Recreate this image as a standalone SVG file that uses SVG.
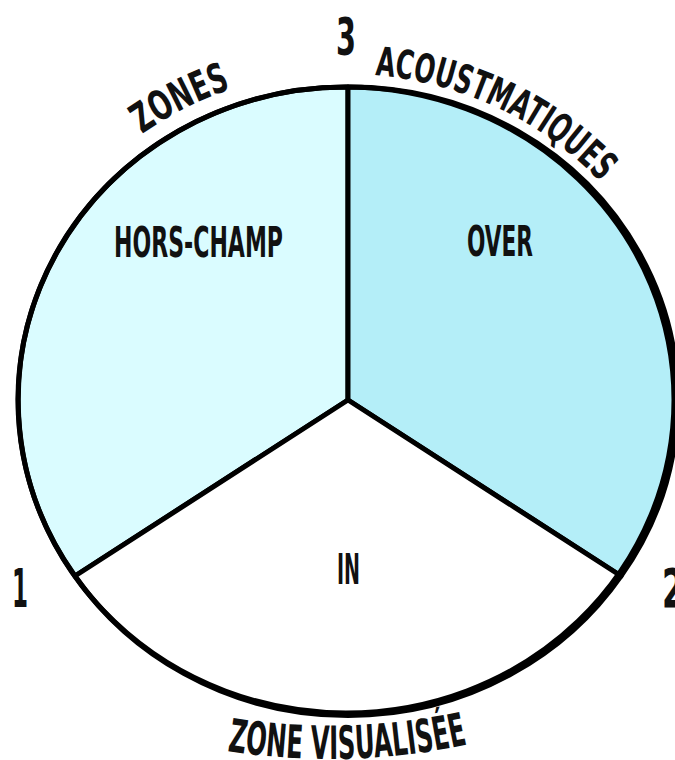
<svg xmlns="http://www.w3.org/2000/svg" width="675" height="760" viewBox="0 0 675 760">
<style>
.lbl{font-family:"DejaVu Sans Condensed","Liberation Sans",sans-serif;font-weight:bold;fill:#111;}
.seg{stroke:#000;stroke-width:5;stroke-linejoin:round;}
</style>
<defs>
<path id="pZones" d="M 142,134 A 345 330 0 0 1 346,70"/>
<path id="pAcou" d="M 346,74 A 342 326 0 0 1 688,400"/>
<path id="pVis" d="M 130,727.5 A 650 650 0 0 0 530,727.5"/>
</defs>
<rect width="675" height="760" fill="#fff"/>
<g id="sector-horschamp">
<path class="seg" fill="#DAFCFF" d="M 348,400 L 348,87 A 328 313 0 0 0 75,576 Z"/>
<text class="lbl" x="114" y="257" font-size="42" textLength="169" lengthAdjust="spacingAndGlyphs">HORS-CHAMP</text>
</g>
<g id="sector-over">
<path class="seg" fill="#B4EEF8" d="M 348,400 L 348,87 A 328 313 0 0 1 621,576 Z"/>
<text class="lbl" x="467" y="256" font-size="42" textLength="66" lengthAdjust="spacingAndGlyphs">OVER</text>
</g>
<g id="sector-in">
<path class="seg" fill="#FFFFFF" d="M 348,400 L 75,576 A 328 313 0 0 0 621,576 Z"/>
<text class="lbl" x="337" y="584" font-size="42" textLength="23" lengthAdjust="spacingAndGlyphs">IN</text>
</g>
<g id="outline">
<ellipse cx="346" cy="400" rx="328" ry="313" fill="none" stroke="#000" stroke-width="5"/>
</g>
<g id="numbers">
<text class="lbl" x="336" y="55" font-size="51" textLength="20" lengthAdjust="spacingAndGlyphs">3</text>
<text class="lbl" x="12" y="607" font-size="53" textLength="16" lengthAdjust="spacingAndGlyphs">1</text>
<text class="lbl" x="662" y="607" font-size="53" textLength="22" lengthAdjust="spacingAndGlyphs">2</text>
</g>
<g id="curved-labels">
<text class="lbl" font-size="41" textLength="100" lengthAdjust="spacingAndGlyphs"><textPath href="#pZones">ZONES</textPath></text>
<text class="lbl" font-size="40" textLength="255" lengthAdjust="spacingAndGlyphs"><textPath href="#pAcou" startOffset="29">ACOUSTMATIQUES</textPath></text>
<text class="lbl" font-size="46" textLength="242" lengthAdjust="spacingAndGlyphs"><textPath href="#pVis" startOffset="100">ZONE VISUALISÉE</textPath></text>
</g>
</svg>
